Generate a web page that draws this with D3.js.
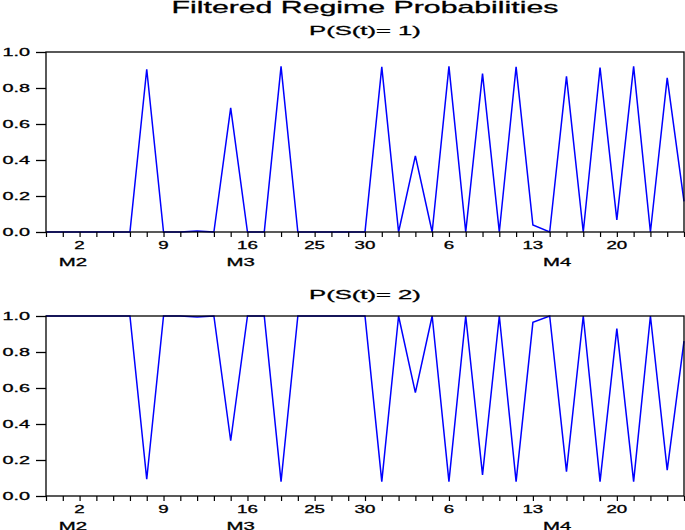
<!DOCTYPE html>
<html>
<head>
<meta charset="utf-8">
<script src="https://cdn.jsdelivr.net/npm/d3@7"></script>
<style>
    body { margin: 0; background: #fff; }
    svg { display: block; }
    text { font-family: "Liberation Sans", Arial, sans-serif; fill: #000; stroke: #000; stroke-width: 0.3px; }
</style>
</head>
<body>
<div class="chart-main"></div>
<script>

//////////
// DATA //
//////////

// one observation per index, 0..38
var probState1 = [0, 0, 0, 0, 0, 0, 0.904, 0, 0, 0.006,
    0, 0.69, 0, 0, 0.92, 0, 0, 0, 0, 0,
    0.917, 0, 0.423, 0, 0.92, 0, 0.88, 0, 0.917, 0.039,
    0, 0.865, 0, 0.913, 0.067, 0.92, 0, 0.856, 0.17];

var probState2 = [1, 1, 1, 1, 1, 1, 0.093, 1, 1, 0.995,
    1, 0.307, 1, 1, 0.08, 1, 1, 1, 1, 1,
    0.08, 1, 0.574, 1, 0.08, 1, 0.117, 1, 0.08, 0.965,
    1, 0.135, 1, 0.08, 0.93, 0.08, 1, 0.144, 0.86];

var dayTickIdx = [2, 7, 12, 16, 19, 24, 29, 34];
var dayTickLabels = ['2', '9', '16', '25', '30', '6', '13', '20'];

var monthIdx = [1.6, 11.6, 30.45];
var monthLabels = ['M2', 'M3', 'M4'];

var yTicks = [0, 0.2, 0.4, 0.6, 0.8, 1.0];

var panels = [
    { title: 'P(S(t)= 1)', values: probState1, top: 52 },
    { title: 'P(S(t)= 2)', values: probState2, top: 316 }
];

//////////////////
// CREATING SVG //
//////////////////

var w = 685,
    h = 530,
    left = 46,
    right = 684,
    panelH = 180;

var svg = d3.select('.chart-main')
    .append('svg')
    .attr('width', w)
    .attr('height', h);

// widen text horizontally, the source font is very wide
function stretch(sel, k) {
    sel.each(function() {
        var len = this.getComputedTextLength();
        d3.select(this)
            .attr('textLength', len * k)
            .attr('lengthAdjust', 'spacingAndGlyphs');
    });
}

var xScale = d3.scaleLinear()
    .domain([0, probState1.length - 1])
    .range([left, right]);

///////////
// TITLE //
///////////

svg.append('text')
    .attr('x', (left + right) / 2)
    .attr('y', 13)
    .attr('text-anchor', 'middle')
    .style('font-size', '17px')
    .text('Filtered Regime Probabilities')
    .call(stretch, 1.78);

////////////
// PANELS //
////////////

panels.forEach(function(p) {

    var bottom = p.top + panelH;

    var yScale = d3.scaleLinear()
        .domain([0, 1])
        .range([bottom, p.top]);

    var g = svg.append('g');

    g.append('text')
        .attr('x', (left + right) / 2)
        .attr('y', p.top - 17)
        .attr('text-anchor', 'middle')
        .style('font-size', '12.5px')
        .text(p.title)
        .call(stretch, 2.05);

    // line
    var line = d3.line()
        .x(function(d, i) { return xScale(i); })
        .y(function(d) { return yScale(d); });

    g.append('path')
        .datum(p.values)
        .attr('d', line)
        .attr('fill', 'none')
        .attr('stroke', '#0000ff')
        .attr('stroke-width', 1.5)
        .attr('stroke-linejoin', 'miter');

    // y axis
    var yAxis = d3.axisLeft(yScale)
        .tickValues(yTicks)
        .tickSize(10)
        .tickPadding(6)
        .tickFormat(d3.format('.1f'));

    var ya = g.append('g')
        .attr('transform', 'translate(' + left + ',0)')
        .call(yAxis);
    ya.select('.domain').remove();
    ya.selectAll('line').attr('stroke', '#000').attr('stroke-width', 1.3);
    ya.selectAll('text')
        .attr('font-family', null)
        .style('font-size', '11px')
        .attr('dy', '0.36em')
        .call(stretch, 1.8);

    // x axis, a tick at every observation
    var xAxis = d3.axisBottom(xScale)
        .tickValues(d3.range(probState1.length))
        .tickSize(5)
        .tickFormat('');

    var xa = g.append('g')
        .attr('transform', 'translate(0,' + bottom + ')')
        .call(xAxis);
    xa.select('.domain').remove();
    xa.selectAll('line').attr('stroke', '#000').attr('stroke-width', 1.2);

    g.selectAll('.day-label')
        .data(dayTickIdx)
        .enter()
        .append('text')
        .attr('class', 'day-label')
        .attr('x', function(d) { return xScale(d); })
        .attr('y', bottom + 17)
        .attr('text-anchor', 'middle')
        .style('font-size', '11px')
        .text(function(d, i) { return dayTickLabels[i]; })
        .call(stretch, 1.7);

    g.selectAll('.month-label')
        .data(monthIdx)
        .enter()
        .append('text')
        .attr('class', 'month-label')
        .attr('x', function(d) { return xScale(d); })
        .attr('y', bottom + 34)
        .attr('text-anchor', 'middle')
        .style('font-size', '11px')
        .text(function(d, i) { return monthLabels[i]; })
        .call(stretch, 1.85);

    // frame on top of the line
    g.append('rect')
        .attr('x', left)
        .attr('y', p.top)
        .attr('width', right - left)
        .attr('height', panelH)
        .attr('fill', 'none')
        .attr('stroke', '#000')
        .attr('stroke-width', 1.3);
});

</script>
</body>
</html>
